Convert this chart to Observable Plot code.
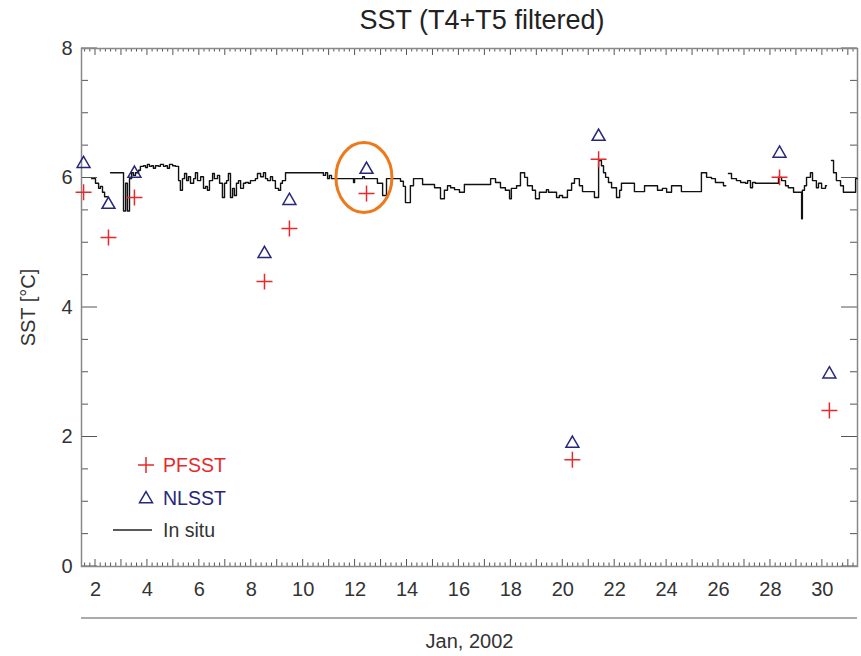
<!DOCTYPE html>
<html><head><meta charset="utf-8">
<script src="https://cdn.jsdelivr.net/npm/d3@7"></script>
<script src="https://cdn.jsdelivr.net/npm/@observablehq/plot@0.6"></script>
<style>
body{margin:0;background:#fff;font-family:"Liberation Sans",Arial,Helvetica,sans-serif;}
#wrap{position:relative;width:861px;height:656px;overflow:hidden;}
#title{position:relative;box-sizing:border-box;height:34px;padding-top:6px;line-height:28px;margin-left:107px;width:750px;text-align:center;font-size:27px;color:#222;white-space:nowrap;}
#chart{height:622px;}
#rule{position:absolute;left:81px;top:617px;width:776px;height:0;border-top:2px solid #aaa;}
.lg{position:absolute;left:163px;height:24px;line-height:24px;font-size:19.5px;white-space:nowrap;}
#lgsym{position:absolute;left:100px;top:445px;}
</style></head><body>
<div id="wrap">
  <div id="title">SST (T4+T5 filtered)</div>
  <div id="chart"></div>
  <div id="rule"></div>
  <svg id="lgsym" width="60" height="100"></svg>
  <div class="lg" style="top:453px;color:#e8282a">PFSST</div>
  <div class="lg" style="top:486px;color:#27277a">NLSST</div>
  <div class="lg" style="top:518px;color:#333">In situ</div>
</div>
<script>
// Satellite retrievals (day of January 2002)
const satDay = [1.54, 2.50, 3.50, 8.51, 9.47, 12.44, 20.37, 21.38, 28.35, 30.27];
const pfsst  = [5.78, 5.08, 5.70, 4.40, 5.22, 5.76, 1.65, 6.29, 6.01, 2.41];
const nlsst  = [6.22, 5.59, 6.07, 4.83, 5.65, 6.13, 1.90, 6.64, 6.38, 2.97];

// In situ record (NaN = gap)
const insituDay = [1.85,2.00,2.12,2.19,2.27,2.35,2.46,2.50,
 2.58,3.08,3.16,3.23,3.31,3.39,3.46,3.54,3.66,3.73,3.85,3.93,4.00,4.08,4.16,4.23,4.31,4.43,4.50,4.62,4.70,4.77,4.85,4.97,5.08,
 5.20,5.27,5.35,5.43,5.51,5.58,5.66,5.78,5.85,5.93,6.05,6.16,6.24,6.31,6.39,6.51,6.58,6.70,6.78,6.89,6.97,7.05,7.12,7.20,7.28,7.35,7.43,7.51,7.59,7.70,7.78,7.89,7.97,
 8.09,8.16,8.24,8.36,8.47,8.55,8.63,8.74,8.82,8.93,9.05,9.13,9.20,9.32,10.78,10.86,10.94,11.01,11.09,11.94,11.98,12.29,12.36,12.86,13.06,13.21,
 13.75,13.86,13.94,14.06,14.13,14.25,14.60,15.06,15.29,15.44,15.56,15.68,15.83,16.02,16.21,17.22,17.41,17.60,17.79,17.95,18.02,18.22,18.37,18.53,18.64,18.83,18.95,19.10,19.37,19.45,
 19.76,19.87,19.99,20.18,20.34,20.45,20.64,20.76,21.22,21.38,21.49,21.57,21.65,21.76,21.88,22.07,22.19,22.26,22.76,23.15,23.65,23.84,24.00,24.19,24.57,
 25.34,25.54,25.73,25.88,26.19,26.28,26.31,
 26.38,26.50,26.69,26.85,27.04,27.12,27.23,27.31,27.42,28.31,28.43,28.58,28.69,28.89,29.16,29.20,29.23,29.31,29.39,29.54,29.62,29.77,29.85,29.97,30.12,30.16,30.20,
 30.35,30.43,30.54,30.70,30.81,31.28,31.35];
const insituSST = [5.99,5.92,5.84,5.87,5.78,5.71,5.71,NaN,
 6.08,5.49,5.92,5.49,5.99,6.08,6.04,6.08,6.12,6.18,6.19,6.16,6.21,6.18,6.19,6.15,6.19,6.18,6.21,6.18,6.19,6.15,6.21,6.19,6.18,
 5.96,5.81,5.99,6.07,5.96,6.02,5.92,5.99,6.08,5.96,6.02,5.84,5.87,5.81,5.96,6.07,5.99,6.04,5.92,5.70,5.92,5.96,6.07,5.70,5.84,5.73,5.92,5.96,5.84,5.92,5.93,5.92,5.96,
 5.96,5.99,6.07,6.02,6.08,5.99,5.96,6.02,5.96,5.84,5.81,5.92,5.96,6.08,6.04,6.08,5.99,6.04,5.99,5.93,5.99,6.02,5.99,5.92,5.73,5.99,
 5.95,5.87,5.62,5.62,5.88,5.99,5.90,5.85,5.68,5.81,5.88,5.85,5.82,5.78,5.90,5.99,5.93,5.85,5.81,5.68,5.84,5.88,6.08,6.01,5.88,5.81,5.68,5.78,5.82,5.78,
 5.70,5.73,5.70,5.81,5.92,5.99,5.88,5.79,5.70,6.27,6.19,6.08,6.01,5.93,5.85,5.70,5.81,5.92,5.79,5.88,5.81,5.84,5.78,5.88,5.79,
 6.08,6.01,5.99,5.93,5.88,5.88,NaN,
 6.07,5.99,5.96,5.93,5.92,5.96,5.85,5.93,5.92,6.01,5.96,5.88,5.85,5.78,5.78,5.37,5.81,5.88,6.01,6.08,5.96,5.85,5.92,5.84,5.88,5.88,NaN,
 6.27,6.08,5.96,5.88,5.78,5.99,5.99];

// Highlighted match-up
const circleDay = 12.36, circleSST = 6.0;

// Axis ticks
const xTickLabels = [2,4,6,8,10,12,14,16,18,20,22,24,26,28,30];
const xDayTicks = d3.range(2, 32);
const xMinorTicks = d3.range(1.6, 31.35, 0.2).filter(d => Math.abs(d - Math.round(d)) > 0.01);
const yTickLabels = [0,2,4,6,8];
const yMinorTicks = [0.5,1,1.5,2.5,3,3.5,4.5,5,5.5,6.5,7,7.5];

const insitu = insituDay.map((d,i) => ({day:d, sst:insituSST[i]}));
const sat = satDay.map((d,i) => ({day:d, pf:pfsst[i], nl:nlsst[i]}));

const RED = "#e8282a", NAVY = "#27277a", AX = "#555";
const W = 861, H = 622, ML = 81, MR = 4, MT = 14, MB = 90;

const ellipse = (index, scales) => {
  const e = document.createElementNS("http://www.w3.org/2000/svg", "ellipse");
  e.setAttribute("cx", scales.x(circleDay));
  e.setAttribute("cy", scales.y(circleSST));
  e.setAttribute("rx", 28);
  e.setAttribute("ry", 35);
  e.setAttribute("fill", "none");
  e.setAttribute("stroke", "#ec7a1c");
  e.setAttribute("stroke-width", 3);
  return e;
};

// Inward tick marks on all four sides, drawn with the plot's own scales
const inwardTicks = (index, scales, values, dims) => {
  const {width, height, marginLeft, marginRight, marginTop, marginBottom} = dims;
  const x0 = marginLeft, x1 = width - marginRight, y0 = marginTop, y1 = height - marginBottom;
  const g = d3.create("svg:g").attr("stroke", AX).attr("stroke-width", 1).attr("fill", "none");
  const seg = (a, b, c, d) => g.append("line").attr("x1", a).attr("y1", b).attr("x2", c).attr("y2", d);
  for (const t of xDayTicks) { const px = scales.x(t); seg(px, y1, px, y1 - 7); seg(px, y0, px, y0 + 7); }
  for (const t of xMinorTicks) { const px = scales.x(t); seg(px, y1, px, y1 - 3.5); seg(px, y0, px, y0 + 3.5); }
  for (const t of yTickLabels) { const py = scales.y(t); seg(x0, py, x0 + 16, py); seg(x1, py, x1 - 16, py); }
  for (const t of yMinorTicks) { const py = scales.y(t); seg(x0, py, x0 + 7, py); seg(x1, py, x1 - 7, py); }
  return g.node();
};

const chart = Plot.plot({
  width: W, height: H,
  marginTop: MT, marginBottom: MB, marginLeft: ML, marginRight: MR,
  style: {fontFamily: "Liberation Sans, Arial, sans-serif", fontSize: "20px", color: "#333", background: "white"},
  x: {domain: [1.461, 31.353]},
  y: {domain: [0, 8]},
  marks: [
    Plot.axisX(xTickLabels, {anchor: "bottom", tickSize: 0, tickPadding: 15, fill: "#333", tickFormat: d3.format("d"),
      label: "Jan, 2002", labelAnchor: "center", labelOffset: 81, labelArrow: "none"}),
    Plot.axisY(yTickLabels, {anchor: "left", tickSize: 0, tickPadding: 9, fill: "#333", tickFormat: d3.format("d"),
      label: "SST [°C]", labelAnchor: "center", labelOffset: 61, labelArrow: "none"}),
    inwardTicks,
    Plot.frame({stroke: "#888", strokeWidth: 1.5}),
    Plot.line(insitu, {x: "day", y: "sst", curve: "step-after", stroke: "#111", strokeWidth: 1.4}),
    Plot.dot(sat, {x: "day", y: "nl", symbol: "triangle", r: 4.8, fill: "none", stroke: NAVY, strokeWidth: 1.5}),
    Plot.dot(sat, {x: "day", y: "pf", symbol: "plus", r: 5.2, stroke: RED, strokeWidth: 1.5}),
    ellipse
  ]
});
document.getElementById("chart").appendChild(chart);

// Legend symbols
const lg = d3.select("#lgsym");
lg.append("path").attr("transform", "translate(46,20)")
  .attr("d", d3.symbol(d3.symbolPlus, 85)()).attr("fill", "none").attr("stroke", RED).attr("stroke-width", 1.5);
lg.append("path").attr("transform", "translate(46,54)")
  .attr("d", d3.symbol(d3.symbolTriangle, 73)()).attr("fill", "none").attr("stroke", NAVY).attr("stroke-width", 1.5);
lg.append("line").attr("x1", 13).attr("x2", 52).attr("y1", 85).attr("y2", 85).attr("stroke", "#222").attr("stroke-width", 1.5);
</script>
</body></html>
